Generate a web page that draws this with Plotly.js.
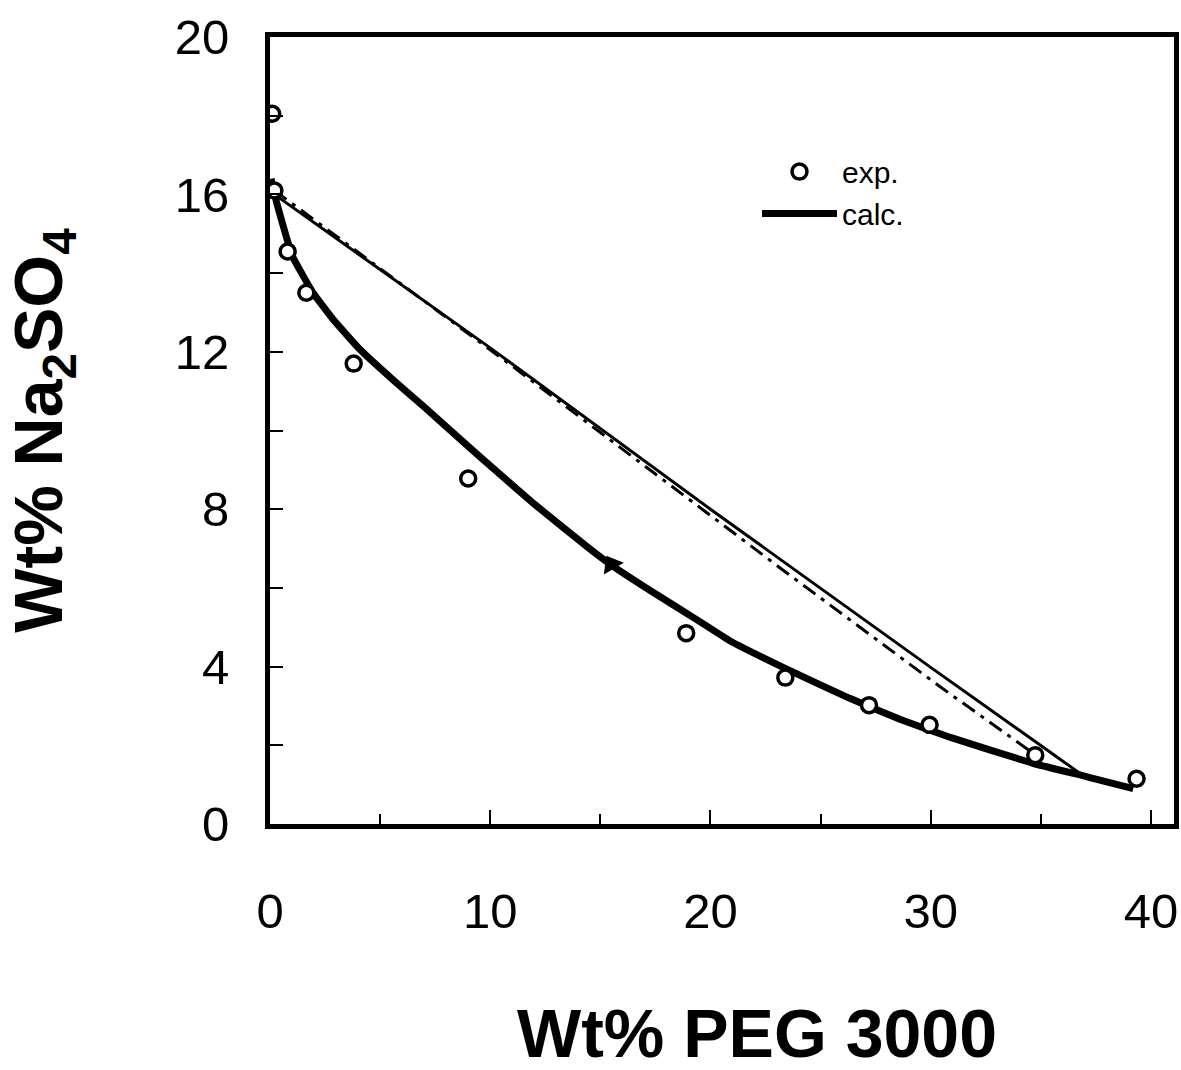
<!DOCTYPE html>
<html>
<head>
<meta charset="utf-8">
<script src="https://cdn.plot.ly/plotly-3.0.1.min.js"></script>
<style>html,body{margin:0;padding:0;background:#fff;}#chart{width:1181px;height:1070px;}</style>
</head>
<body>
<div id="chart"></div>
<script>
// Experimental binodal points
const expPEG = [0.1, 0.2, 0.8, 1.65, 3.8, 9.0, 18.9, 23.4, 27.2, 29.95, 34.75, 39.35];
const expNa2SO4 = [18.05, 16.1, 14.55, 13.5, 11.7, 8.78, 4.85, 3.72, 3.02, 2.52, 1.75, 1.15];

// Calculated binodal curve
const calcPEG = [0.05, 0.3, 1.0, 1.95, 2.9, 4.1, 5.6, 7.0, 9.5, 12.0, 14.5, 15.5, 17.5, 19.5, 20.9, 23.3, 26.3, 28.6, 30.9, 34.6, 37.1, 39.2];
const calcNa2SO4 = [16.4, 15.8, 14.45, 13.5, 12.8, 12.05, 11.28, 10.6, 9.35, 8.13, 7.0, 6.58, 5.85, 5.15, 4.65, 3.98, 3.2, 2.66, 2.2, 1.55, 1.2, 0.9];

// Calculated tie line
const tieCalcPEG = [0.2, 10.0, 20.0, 30.0, 37.1];
const tieCalcNa2SO4 = [16.0, 12.1, 8.0, 3.98, 1.16];

// Experimental tie line
const tieExpPEG = [0.2, 10.8, 23.3, 30.4, 34.6];
const tieExpNa2SO4 = [16.1, 11.72, 6.45, 3.5, 1.82];

// Critical point
const critPEG = [15.5];
const critNa2SO4 = [6.6];

// Tick labels
const xTickVals = [0, 10, 20, 30, 40];
const xTickText = ['0', '10', '20', '30', '40'];
const yTickVals = [0, 4, 8, 12, 16, 20];
const yTickText = ['0', '4', '8', '12', '16', '20'];

// Axis titles
const xTitle = '<b>Wt% PEG 3000</b>';
const yTitle = '<b>Wt% Na<sub>2</sub>SO<sub>4</sub></b>';

const FONT = 'Liberation Sans, Arial, Helvetica, sans-serif';

const traces = [
  {x: tieCalcPEG, y: tieCalcNa2SO4, mode: 'lines', line: {color: '#000', width: 3}, showlegend: false, hoverinfo: 'skip'},
  {x: tieExpPEG, y: tieExpNa2SO4, mode: 'lines', line: {color: '#000', width: 3, dash: '15px,7px,4px,7px'}, showlegend: false, hoverinfo: 'skip'},
  {x: calcPEG, y: calcNa2SO4, mode: 'lines', name: 'calc.', legendrank: 2, line: {color: '#000', width: 7, shape: 'spline', smoothing: 0.3}},
  {x: critPEG, y: critNa2SO4, mode: 'markers', showlegend: false, marker: {symbol: 'triangle-up', size: 20, color: '#000', angle: -30}},
  {x: expPEG, y: expNa2SO4, mode: 'markers', name: 'exp.', legendrank: 1, marker: {symbol: 'circle', size: 15, color: '#fff', line: {color: '#000', width: 3.5}}}
];

const layout = {
  width: 1181, height: 1070,
  paper_bgcolor: '#fff', plot_bgcolor: '#fff',
  margin: {l: 270, r: 7, t: 37, b: 246},
  font: {family: FONT, color: '#000'},
  showlegend: true,
  legend: {x: (757 - 270) / 904, y: 0.862, xanchor: 'left', yanchor: 'top', font: {size: 30, family: FONT}, itemwidth: 75, bgcolor: 'rgba(0,0,0,0)', borderwidth: 0, tracegroupgap: 0},
  xaxis: {
    range: [0, 41.05], showgrid: false, zeroline: false,
    showline: true, linecolor: '#000', linewidth: 5, mirror: true,
    tickmode: 'array', tickvals: xTickVals, ticktext: xTickText,
    ticks: 'inside', ticklen: 14, tickwidth: 2, tickcolor: '#000',
    minor: {dtick: 5, ticks: 'inside', ticklen: 10, tickwidth: 2, tickcolor: '#000', showgrid: false},
    tickfont: {size: 49, family: FONT}, ticklabelstandoff: 40,
    automargin: false
  },
  yaxis: {
    range: [0, 20], showgrid: false, zeroline: false,
    showline: true, linecolor: '#000', linewidth: 5, mirror: true,
    tickmode: 'array', tickvals: yTickVals, ticktext: yTickText,
    ticks: 'inside', ticklen: 13, tickwidth: 2, tickcolor: '#000',
    minor: {dtick: 2, ticks: 'inside', ticklen: 13, tickwidth: 2, tickcolor: '#000', showgrid: false},
    tickfont: {size: 49, family: FONT}, ticklabelstandoff: 26,
    title: {text: yTitle, font: {size: 68, family: FONT}, standoff: 95},
    automargin: false
  },
  annotations: [
    {text: xTitle, xref: 'paper', yref: 'paper', x: (757 - 270) / 904, y: -(1033 - 824) / 787,
     xanchor: 'center', yanchor: 'middle', showarrow: false, font: {size: 68, family: FONT, color: '#000'}}
  ]
};

Plotly.newPlot('chart', traces, layout, {displayModeBar: false, staticPlot: true});
</script>
</body>
</html>
